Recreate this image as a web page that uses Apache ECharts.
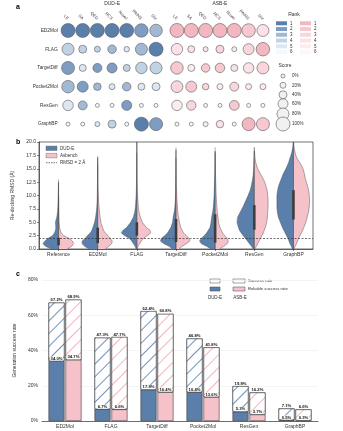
<!DOCTYPE html>
<html><head><meta charset="utf-8">
<script src="https://cdn.jsdelivr.net/npm/echarts@6/dist/echarts.min.js"></script>
<style>html,body{margin:0;padding:0;background:#fff}#c{width:343px;height:431px}</style>
</head><body><div id="c"></div>
<script>
const FONT = '"Liberation Sans", Arial, sans-serif';
const INK = '#333';

// ---------- panel a: ranking bubbles ----------
const models = ['ED2Mol', 'FLAG', 'TargetDiff', 'Pocket2Mol', 'ResGen', 'GraphBP'];
const metrics = ['LE', 'SA', 'QED', 'RCS', 'Novel', 'PAINS', 'Div'];
// score (%) per model row / metric column
const dudeScore = [
  [100, 100, 100, 100, 100, 95, 85],
  [80, 40, 20, 45, 15, 80, 100],
  [90, 30, 50, 60, 30, 75, 80],
  [85, 70, 35, 20, 45, 30, 40],
  [65, 50, 0, 0, 60, 0, 0],
  [0, 0, 10, 40, 0, 100, 90]
];
const dudeRank = [
  [1, 1, 1, 1, 1, 2, 3],
  [4, 4, 4, 3, 5, 3, 1],
  [2, 5, 2, 2, 4, 4, 4],
  [3, 2, 3, 5, 3, 5, 5],
  [5, 3, 6, 6, 2, 6, 6],
  [6, 6, 5, 4, 6, 1, 2]
];
const asbScore = [
  [100, 100, 100, 100, 100, 95, 80],
  [75, 30, 10, 40, 10, 70, 95],
  [85, 30, 45, 55, 30, 65, 80],
  [78, 70, 25, 20, 50, 20, 20],
  [65, 55, 0, 0, 58, 0, 0],
  [0, 0, 10, 35, 0, 90, 90]
];
const asbRank = [
  [1, 1, 1, 1, 1, 2, 4],
  [4, 4, 4, 3, 5, 3, 1],
  [2, 5, 2, 2, 4, 4, 3],
  [3, 2, 3, 5, 3, 5, 5],
  [5, 3, 6, 6, 2, 6, 6],
  [6, 6, 5, 4, 6, 1, 2]
];
const rankLabels = ['1', '2', '3', '4', '5', '6'];
const scoreLegend = [0, 20, 40, 60, 80, 100];
const blueRamp = ['#5b7fab', '#7f9dc2', '#a2b9d5', '#c2d2e5', '#dde6f1', '#f4f7fb'];
const pinkRamp = ['#f3b7c1', '#f6c8cf', '#f8d6db', '#fae2e6', '#fcecef', '#fef6f7'];
const bubbleSize = s => 4 + s * 0.1;

// ---------- panel b: re-docking RMSD distributions ----------
const violinCats = ['Reference', 'ED2Mol', 'FLAG', 'TargetDiff', 'Pocket2Mol', 'ResGen', 'GraphBP'];
const rmsdGrid = [0, 0.5, 1, 1.5, 2, 2.5, 3, 3.5, 4, 5, 6, 7, 8, 9, 10, 11, 12, 13, 14, 15, 16, 17, 18, 19, 20];
const densDUDE = [
  [20, 38, 45, 40, 30, 18, 12, 9, 8, 9, 5, 3, 2, 1.5, 1, 0.8, 0.5, 0, 0, 0, 0, 0, 0, 0, 0],
  [25, 38, 45, 45, 36, 30, 22, 17, 14, 9, 6, 4, 2.5, 1.8, 1.2, 1, 0.8, 0.6, 0.5, 0.4, 0.2, 0, 0, 0, 0],
  [2, 5, 10, 15, 22, 35, 45, 40, 30, 18, 10, 6, 4, 3, 2, 1.5, 1.2, 1, 0.8, 0.6, 0.5, 0.4, 0.3, 0.2, 0.1],
  [10, 20, 35, 45, 42, 33, 25, 20, 15, 10, 8, 5, 3, 2, 1.5, 1.2, 1, 0.8, 0.6, 0.4, 0.3, 0.2, 0.1, 0, 0],
  [12, 25, 40, 45, 40, 32, 25, 20, 15, 12, 10, 7, 5, 4, 3, 2.5, 2, 1.5, 1, 0.7, 0.5, 0.3, 0.2, 0, 0],
  [3, 8, 14, 20, 26, 32, 38, 43, 46, 50, 48, 40, 32, 25, 18, 12, 8, 5, 3, 2, 1.5, 1, 0.5, 0, 0],
  [3, 6, 10, 13, 16, 20, 24, 28, 32, 38, 44, 47, 48, 48, 48, 46, 42, 36, 30, 22, 15, 10, 5, 2, 0.5]
];
const densASB = [
  [25, 38, 43, 40, 30, 15, 8, 5, 3, 1.5, 1, 0.8, 0.5, 0.3, 0, 0, 0, 0, 0, 0, 0, 0, 0, 0, 0],
  [22, 32, 40, 42, 36, 30, 22, 17, 14, 9, 7, 5, 3.5, 2.5, 1.8, 1.2, 0.8, 0.6, 0.5, 0.3, 0, 0, 0, 0, 0],
  [2, 3, 8, 13, 20, 30, 40, 38, 28, 16, 10, 6, 4, 3, 2, 1.5, 1, 0.8, 0.6, 0.4, 0.3, 0.2, 0, 0, 0],
  [9, 18, 30, 40, 38, 30, 22, 18, 14, 10, 7, 5, 4, 3, 2, 1.5, 1, 0.8, 0.5, 0.3, 0.2, 0, 0, 0, 0],
  [12, 25, 35, 38, 35, 28, 22, 18, 14, 10, 8, 6, 5, 4, 3, 2.5, 2, 1.5, 1, 0.6, 0.4, 0.2, 0, 0, 0],
  [2, 6, 10, 14, 18, 22, 26, 29, 32, 36, 38, 39, 40, 40, 39, 37, 33, 27, 18, 10, 5, 2, 1, 0, 0],
  [2, 5, 9, 12, 15, 19, 23, 27, 30, 36, 40, 44, 46, 47, 46, 44, 40, 35, 32, 28, 20, 10, 5, 2, 0.5]
];
const rmsdMax = [12.5, 17.3, 20, 18.5, 18.3, 18.3, 20];
const rmsdQ1 = [0.7, 1.1, 2.5, 1.3, 1.2, 3.6, 5.5];
const rmsdQ3 = [2.1, 4.0, 5.0, 5.6, 6.5, 8.2, 11.0];
const rmsdCutoff = 2;

// ---------- panel c: generation success rate ----------
const barCats = ['ED2Mol', 'FLAG', 'TargetDiff', 'Pocket2Mol', 'ResGen', 'GraphBP'];
const dudeSuccess = [67.2, 47.3, 62.4, 46.8, 19.8, 7.1];
const dudeReliable = [34.0, 6.7, 17.8, 16.4, 5.3, 0.5];
const asbSuccess = [68.9, 47.7, 60.8, 41.8, 16.2, 6.6];
const asbReliable = [34.7, 6.6, 16.4, 13.6, 3.7, 0.3];

const BLUE = '#5b7fab';
const PINK = '#f5c2c9';

function bubbleData(score, rank) {
  const out = [];
  score.forEach((row, r) => row.forEach((s, c) => out.push([c, r, s, rank[r][c]])));
  return out;
}

// one half of a split violin; side -1 draws to the left of the category centre
function violinHalf(dens, side, color) {
  return function (params, api) {
    const i = params.dataIndex;
    const d = dens[i];
    const band = api.size([1, 0])[0];
    const maxW = band * 0.44;
    const cx = api.coord([i, 0])[0];
    let last = d.length - 1;
    while (last > 0 && d[last] === 0) last--;
    last = Math.min(d.length - 1, last + 1);
    const edge = [];
    for (let k = 0; k <= last; k++) {
      edge.push([cx + side * d[k] / 50 * maxW, api.coord([i, rmsdGrid[k]])[1]]);
    }
    const yTop = api.coord([i, rmsdGrid[last]])[1];
    const yBot = api.coord([i, rmsdGrid[0]])[1];
    const pts = [[cx, yBot]].concat(edge, [[cx, yTop]]);
    return {
      type: 'group',
      children: [
        { type: 'polygon', shape: { points: pts }, style: { fill: color, stroke: null } },
        { type: 'polyline', shape: { points: edge, smooth: 0.25 }, style: { fill: null, stroke: '#4a4a4a', lineWidth: 0.45 } }
      ]
    };
  };
}

function boxItem(params, api) {
  const i = params.dataIndex;
  const cx = api.coord([i, 0])[0];
  const y0 = api.coord([i, 0])[1];
  const yMax = api.coord([i, rmsdMax[i]])[1];
  const yQ1 = api.coord([i, rmsdQ1[i]])[1];
  const yQ3 = api.coord([i, rmsdQ3[i]])[1];
  return {
    type: 'group',
    children: [
      { type: 'line', shape: { x1: cx, y1: y0, x2: cx, y2: yMax }, style: { stroke: '#3a3a3a', lineWidth: 0.7 } },
      { type: 'rect', shape: { x: cx - 1.3, y: yQ3, width: 2.6, height: yQ1 - yQ3 }, style: { fill: '#3d3d3d' } }
    ]
  };
}

const hatch = c => ({
  symbol: 'rect', symbolSize: 1, color: c, backgroundColor: '#fff',
  dashArrayX: [1, 0], dashArrayY: [0.8, 7.5], rotation: -Math.PI / 4
});

const smallTxt = { fontFamily: FONT, fontSize: 5, color: INK };

const chart = echarts.init(document.getElementById('c'));

const graphic = [];
// panel letters
[['a', 4], ['b', 139], ['c', 271]].forEach(([t, y]) => graphic.push({
  type: 'text', left: 16, top: y, style: { text: t, font: 'bold 7px ' + FONT, fill: '#000' }
}));
// rank legend
graphic.push({ type: 'text', x: 294, y: 15, style: { text: 'Rank', font: '5px ' + FONT, fill: INK, align: 'center', verticalAlign: 'middle' } });
rankLabels.forEach((t, k) => {
  const y = 23.3 + k * 5.75;
  graphic.push({ type: 'rect', shape: { x: 276, y: y - 2, width: 11, height: 4 }, style: { fill: blueRamp[k] } });
  graphic.push({ type: 'text', x: 290, y: y, style: { text: t, font: '4.5px ' + FONT, fill: INK, verticalAlign: 'middle' } });
  graphic.push({ type: 'rect', shape: { x: 300, y: y - 2, width: 11, height: 4 }, style: { fill: pinkRamp[k] } });
  graphic.push({ type: 'text', x: 314, y: y, style: { text: t, font: '4.5px ' + FONT, fill: INK, verticalAlign: 'middle' } });
});
// score legend
graphic.push({ type: 'text', x: 285, y: 66, style: { text: 'Score', font: '5px ' + FONT, fill: INK, align: 'center', verticalAlign: 'middle' } });
const scoreY = [76, 85.3, 94.8, 103.8, 114, 124];
scoreLegend.forEach((s, k) => {
  graphic.push({ type: 'circle', shape: { cx: 283, cy: scoreY[k], r: bubbleSize(s) / 2 }, style: { fill: '#f1f1f1', stroke: '#555', lineWidth: 0.6 } });
  graphic.push({ type: 'text', x: 292, y: scoreY[k], style: { text: s + '%', font: '4.5px ' + FONT, fill: INK, verticalAlign: 'middle' } });
});
// panel b legend
[['DUD-E', BLUE, 148.3], ['Asbench', PINK, 155.6]].forEach(([t, c, y]) => {
  graphic.push({ type: 'rect', shape: { x: 46, y: y - 2.2, width: 11, height: 4.4 }, style: { fill: c, stroke: '#555', lineWidth: 0.4 } });
  graphic.push({ type: 'text', x: 60, y: y, style: { text: t, font: '4.5px ' + FONT, fill: INK, verticalAlign: 'middle' } });
});
graphic.push({ type: 'line', shape: { x1: 46, y1: 162.7, x2: 57, y2: 162.7 }, style: { stroke: INK, lineWidth: 0.7, lineDash: [1.5, 1] } });
graphic.push({ type: 'text', x: 60, y: 162.7, style: { text: 'RMSD = 2 Å', font: '4.5px ' + FONT, fill: INK, verticalAlign: 'middle' } });
// panel c legend
[['Success rate', '#fff', '#fff', 281], ['Reliable success rate', BLUE, PINK, 289]].forEach(([t, c1, c2, y]) => {
  graphic.push({ type: 'rect', shape: { x: 210, y: y - 2, width: 10, height: 4 }, style: { fill: c1, stroke: '#444', lineWidth: 0.5 } });
  graphic.push({ type: 'rect', shape: { x: 233, y: y - 2, width: 12, height: 4 }, style: { fill: c2, stroke: '#444', lineWidth: 0.5 } });
  graphic.push({ type: 'text', x: 248, y: y, style: { text: t, font: '4.2px ' + FONT, fill: INK, verticalAlign: 'middle' } });
});
graphic.push({ type: 'text', x: 215, y: 298, style: { text: 'DUD-E', font: '4.5px ' + FONT, fill: INK, align: 'center', verticalAlign: 'middle' } });
graphic.push({ type: 'text', x: 240, y: 298, style: { text: 'ASB-E', font: '4.5px ' + FONT, fill: INK, align: 'center', verticalAlign: 'middle' } });

const bubbleX = (name, idx) => ({
  type: 'category', gridIndex: idx, data: metrics, position: 'top',
  name: name, nameLocation: 'middle', nameGap: 15,
  nameTextStyle: { fontFamily: FONT, fontSize: 5, color: INK },
  axisLine: { show: false }, axisTick: { show: false }, splitLine: { show: false },
  axisLabel: { rotate: 45, margin: 2, fontFamily: FONT, fontSize: 4.2, color: '#444', interval: 0 }
});
const bubbleY = (idx, labels) => ({
  type: 'category', gridIndex: idx, data: models, inverse: true,
  axisLine: { show: false }, axisTick: { show: false }, splitLine: { show: false },
  axisLabel: { show: labels, margin: 3, fontFamily: FONT, fontSize: 4.8, color: INK }
});
const bubbleSeries = (data, ramp, idx) => ({
  type: 'scatter', xAxisIndex: idx, yAxisIndex: idx, data: data, silent: true,
  symbolSize: v => bubbleSize(v[2]),
  itemStyle: { color: p => ramp[p.value[3] - 1], borderColor: '#5a5a5a', borderWidth: 0.6, opacity: 1 }
});

const barSeries = (name, stack, vals, color, decal, labelVals) => ({
  type: 'bar', name: name, stack: stack, xAxisIndex: 3, yAxisIndex: 3,
  data: vals, barWidth: 16, barGap: '6%',
  itemStyle: decal ? { color: '#fff', decal: decal, borderColor: '#3a3a3a', borderWidth: 0.6 }
                   : { color: color, borderColor: '#3a3a3a', borderWidth: 0.6 },
  label: {
    show: true, position: 'top', distance: 0.5,
    formatter: p => labelVals[p.dataIndex].toFixed(1) + '%',
    fontFamily: FONT, fontSize: 4.2, fontWeight: 'bold', color: '#111',
    backgroundColor: '#fff', padding: [0, 0.5]
  }
});

chart.setOption({
  animation: false,
  backgroundColor: '#fff',
  textStyle: { fontFamily: FONT },
  graphic: graphic,
  grid: [
    { left: 60.7, top: 19.5, width: 102.7, height: 114 },
    { left: 169.8, top: 19.5, width: 100.3, height: 114 },
    { left: 39, top: 142, width: 274, height: 107, show: true, borderColor: INK, borderWidth: 0.7 },
    { left: 42, top: 280, width: 276, height: 141 }
  ],
  xAxis: [
    bubbleX('DUD-E', 0),
    bubbleX('ASB-E', 1),
    {
      type: 'category', gridIndex: 2, data: violinCats,
      axisLine: { lineStyle: { color: INK, width: 0.7 } },
      axisTick: { show: true, length: 2, alignWithLabel: true, lineStyle: { color: INK, width: 0.6 } },
      axisLabel: { margin: 3, ...smallTxt }
    },
    {
      type: 'category', gridIndex: 3, data: barCats,
      axisLine: { lineStyle: { color: INK, width: 0.7 } },
      axisTick: { show: false },
      axisLabel: { margin: 3, ...smallTxt }
    }
  ],
  yAxis: [
    bubbleY(0, true),
    bubbleY(1, false),
    {
      type: 'value', gridIndex: 2, min: 0, max: 20, interval: 2.5,
      name: 'Re-docking RMSD (Å)', nameLocation: 'middle', nameGap: 16,
      nameTextStyle: smallTxt,
      axisLine: { show: true, lineStyle: { color: INK, width: 0.7 } },
      axisTick: { show: true, length: 2, lineStyle: { color: INK, width: 0.6 } },
      splitLine: { show: false },
      axisLabel: { margin: 3, formatter: v => v.toFixed(1), ...smallTxt }
    },
    {
      type: 'value', gridIndex: 3, min: 0, max: 80, interval: 20,
      name: 'Generation success rate', nameLocation: 'middle', nameGap: 20,
      nameTextStyle: smallTxt,
      axisLine: { show: false }, axisTick: { show: false },
      splitLine: { lineStyle: { color: '#ececec', width: 0.6 } },
      axisLabel: { margin: 4, formatter: '{value}%', ...smallTxt }
    }
  ],
  series: [
    bubbleSeries(bubbleData(dudeScore, dudeRank), blueRamp, 0),
    bubbleSeries(bubbleData(asbScore, asbRank), pinkRamp, 1),
    {
      type: 'custom', name: 'DUD-E', xAxisIndex: 2, yAxisIndex: 2, silent: true, clip: true,
      data: violinCats.map((c, i) => [i, rmsdMax[i]]),
      renderItem: violinHalf(densDUDE, -1, BLUE)
    },
    {
      type: 'custom', name: 'Asbench', xAxisIndex: 2, yAxisIndex: 2, silent: true, clip: true,
      data: violinCats.map((c, i) => [i, rmsdMax[i]]),
      renderItem: violinHalf(densASB, 1, PINK)
    },
    {
      type: 'custom', name: 'box', xAxisIndex: 2, yAxisIndex: 2, silent: true, clip: true,
      data: violinCats.map((c, i) => [i, rmsdMax[i]]),
      renderItem: boxItem,
      markLine: {
        silent: true, symbol: 'none', label: { show: false },
        lineStyle: { color: INK, type: [2, 1.5], width: 0.7 },
        data: [{ yAxis: rmsdCutoff }]
      }
    },
    barSeries('DUD-E reliable', 'dude', dudeReliable, BLUE, null, dudeReliable),
    barSeries('DUD-E success', 'dude', dudeSuccess.map((s, i) => +(s - dudeReliable[i]).toFixed(1)), null, hatch('#6f93c0'), dudeSuccess),
    barSeries('ASB-E reliable', 'asb', asbReliable, PINK, null, asbReliable),
    barSeries('ASB-E success', 'asb', asbSuccess.map((s, i) => +(s - asbReliable[i]).toFixed(1)), null, hatch('#f3b3bd'), asbSuccess)
  ]
});
</script>
</body></html>
